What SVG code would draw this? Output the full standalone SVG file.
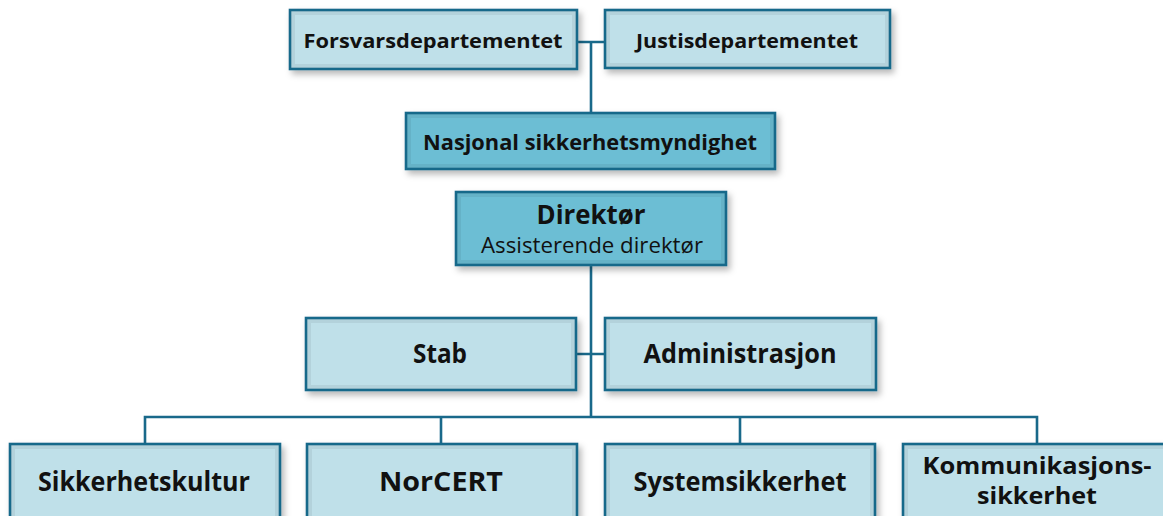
<svg xmlns="http://www.w3.org/2000/svg" width="1163" height="516" viewBox="0 0 1163 516">
  <defs>
    <filter id="sh" x="-10%" y="-20%" width="125%" height="150%">
      <feDropShadow dx="3" dy="4" stdDeviation="3" flood-color="#000" flood-opacity="0.28"/>
    </filter>
    <style>
      .box { stroke: #19698a; stroke-width: 2.6; filter: url(#sh); }
      .light { fill: #bfe0e9; }
      .dark { fill: #6cbed4; }
      .inner { fill: none; stroke: #000; stroke-opacity: 0.06; stroke-width: 4; }
      .t { font-family: "Open Sans", "Liberation Sans", sans-serif; fill: #111; text-anchor: middle; }
      .b { font-weight: 700; }
      .conn { fill: none; stroke: #19698a; stroke-width: 2.6; }
    </style>
  </defs>
  <rect width="1163" height="516" fill="#ffffff"/>

  <g id="connectors">
    <path class="conn" d="M577 42 H604 M591 42 V112"/>
    <path class="conn" d="M591 265 V417 M576 354 H604"/>
    <path class="conn" d="M145 443 V417 H1037 V443 M441 417 V443 M740 417 V443"/>
  </g>

  <g id="forsvarsdepartementet">
    <rect class="box light" x="290" y="10" width="287" height="59"/>
    <rect class="inner" x="293" y="13" width="281" height="53"/>
    <text class="t b" x="433" y="48" font-size="20" textLength="259" lengthAdjust="spacingAndGlyphs">Forsvarsdepartementet</text>
  </g>
  <g id="justisdepartementet">
    <rect class="box light" x="605" y="10" width="285" height="58"/>
    <rect class="inner" x="608" y="13" width="279" height="52"/>
    <text class="t b" x="747" y="48" font-size="20" textLength="222" lengthAdjust="spacingAndGlyphs">Justisdepartementet</text>
  </g>
  <g id="nasjonal">
    <rect class="box dark" x="406" y="113" width="369" height="56"/>
    <rect class="inner" x="409" y="116" width="363" height="50"/>
    <text class="t b" x="590" y="150" font-size="21" textLength="334" lengthAdjust="spacingAndGlyphs">Nasjonal sikkerhetsmyndighet</text>
  </g>
  <g id="direktor">
    <rect class="box dark" x="456" y="192" width="270" height="73"/>
    <rect class="inner" x="459" y="195" width="264" height="67"/>
    <text class="t b" x="591" y="224" font-size="27" textLength="109" lengthAdjust="spacingAndGlyphs">Direktør</text>
    <text class="t" x="592" y="253" font-size="21" textLength="222" lengthAdjust="spacingAndGlyphs">Assisterende direktør</text>
  </g>
  <g id="stab">
    <rect class="box light" x="306" y="318" width="270" height="72"/>
    <rect class="inner" x="309" y="321" width="264" height="66"/>
    <text class="t b" x="440" y="363" font-size="26" textLength="54" lengthAdjust="spacingAndGlyphs">Stab</text>
  </g>
  <g id="administrasjon">
    <rect class="box light" x="605" y="318" width="271" height="72"/>
    <rect class="inner" x="608" y="321" width="265" height="66"/>
    <text class="t b" x="740" y="363" font-size="26" textLength="193" lengthAdjust="spacingAndGlyphs">Administrasjon</text>
  </g>
  <g id="sikkerhetskultur">
    <rect class="box light" x="10" y="444" width="270" height="100"/>
    <rect class="inner" x="13" y="447" width="264" height="94"/>
    <text class="t b" x="144" y="491" font-size="26" textLength="212" lengthAdjust="spacingAndGlyphs">Sikkerhetskultur</text>
  </g>
  <g id="norcert">
    <rect class="box light" x="307" y="444" width="270" height="100"/>
    <rect class="inner" x="310" y="447" width="264" height="94"/>
    <text class="t b" x="441" y="491" font-size="26" textLength="124" lengthAdjust="spacingAndGlyphs">NorCERT</text>
  </g>
  <g id="systemsikkerhet">
    <rect class="box light" x="605" y="444" width="270" height="100"/>
    <rect class="inner" x="608" y="447" width="264" height="94"/>
    <text class="t b" x="740" y="491" font-size="26" textLength="213" lengthAdjust="spacingAndGlyphs">Systemsikkerhet</text>
  </g>
  <g id="kommunikasjonssikkerhet">
    <rect class="box light" x="903" y="444" width="270" height="100"/>
    <rect class="inner" x="906" y="447" width="264" height="94"/>
    <text class="t b" x="1037" y="474" font-size="23" textLength="229" lengthAdjust="spacingAndGlyphs">Kommunikasjons-</text>
    <text class="t b" x="1037" y="504" font-size="24" textLength="120" lengthAdjust="spacingAndGlyphs">sikkerhet</text>
  </g>
</svg>
